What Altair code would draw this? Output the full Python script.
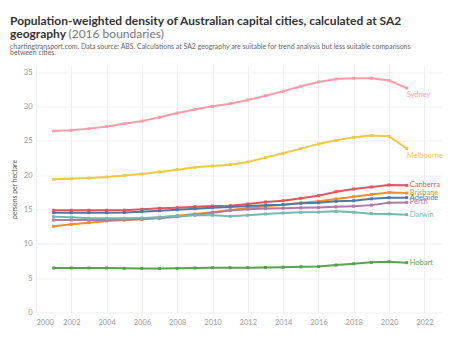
import altair as alt
import pandas as pd

years = list(range(2001, 2022))
cities = ["Sydney", "Melbourne", "Canberra", "Brisbane", "Adelaide", "Perth", "Darwin", "Hobart"]

sydney = [26.46, 26.56, 26.8, 27.1, 27.5, 27.9, 28.45, 29.08, 29.6, 30.05, 30.44,
          30.97, 31.6, 32.24, 32.97, 33.6, 34.04, 34.14, 34.14, 33.8, 32.7]
melbourne = [19.41, 19.5, 19.6, 19.75, 19.95, 20.19, 20.48, 20.82, 21.16, 21.35, 21.55,
             21.94, 22.57, 23.2, 23.88, 24.56, 25.1, 25.54, 25.78, 25.68, 23.9]
canberra = [14.9, 14.9, 14.9, 14.9, 14.92, 15.04, 15.19, 15.28, 15.42, 15.52, 15.57,
            15.82, 16.1, 16.3, 16.65, 17.03, 17.6, 18.0, 18.29, 18.59, 18.54]
brisbane = [12.56, 12.85, 13.09, 13.34, 13.48, 13.63, 13.88, 14.11, 14.36, 14.6, 14.94,
            15.23, 15.48, 15.72, 15.96, 16.2, 16.55, 16.88, 17.2, 17.5, 17.4]
adelaide = [14.55, 14.55, 14.55, 14.55, 14.58, 14.7, 14.84, 14.98, 15.13, 15.28, 15.38,
            15.52, 15.62, 15.72, 15.92, 16.0, 16.2, 16.3, 16.57, 16.74, 16.74]
perth = [13.48, 13.48, 13.48, 13.48, 13.5, 13.58, 13.73, 13.97, 14.26, 14.55, 14.85,
         15.05, 15.15, 15.2, 15.25, 15.3, 15.4, 15.5, 15.65, 16.0, 16.05]
darwin = [13.97, 13.88, 13.73, 13.73, 13.73, 13.78, 13.88, 14.07, 14.17, 14.17, 14.02,
          14.17, 14.36, 14.5, 14.6, 14.63, 14.75, 14.6, 14.41, 14.36, 14.26]
hobart = [6.49, 6.49, 6.49, 6.49, 6.44, 6.41, 6.41, 6.44, 6.49, 6.53, 6.53,
          6.53, 6.56, 6.61, 6.66, 6.7, 6.92, 7.11, 7.31, 7.4, 7.26]

colors = ["#FF9DA7", "#EDC948", "#E15759", "#F28E2B", "#4E79A7", "#B07AA1", "#76B7B2", "#59A14F"]

x_ticks = list(range(2000, 2023, 2))
y_ticks = list(range(0, 36, 5))

title_line1 = "Population-weighted density of Australian capital cities, calculated at SA2"
title_line2 = "geography"
title_note = "(2016 boundaries)"
subtitle_line1 = ("chartingtransport.com. Data source: ABS. Calculations at SA2 geography are "
                  "suitable for trend analysis but less suitable comparisons")
subtitle_line2 = "between cities."

series = [sydney, melbourne, canberra, brisbane, adelaide, perth, darwin, hobart]
rows = []
for c, vals in zip(cities, series):
    for yr, v in zip(years, vals):
        rows.append({"city": c, "year": yr, "density": v})
df = pd.DataFrame(rows)

FONT = "Lato"

color = alt.Color("city:N", scale=alt.Scale(domain=cities, range=colors), legend=None)
x = alt.X(
    "year:Q",
    scale=alt.Scale(domain=[2000, 2023], nice=False, zero=False),
    axis=alt.Axis(values=x_ticks, format="d", title=None, labelFlush=True, labelOverlap=False,
                  grid=True, gridColor="#efefef", domain=False, ticks=False,
                  labelColor="#9a9a9a", labelFontSize=7.5, labelFont=FONT, labelPadding=6),
)
y = alt.Y(
    "density:Q",
    scale=alt.Scale(domain=[0, 36], nice=False),
    axis=alt.Axis(values=y_ticks, title="persons per hectare", labelOverlap=False, grid=True,
                  gridColor="#efefef", domain=False, ticks=False, labelColor="#9a9a9a",
                  labelFontSize=7.5, labelFont=FONT, labelPadding=4, titleFont=FONT,
                  titleFontSize=6.8, titleFontWeight="normal", titleColor="#555555",
                  titlePadding=6),
)

base = alt.Chart(df)
lines = base.mark_line(
    strokeWidth=2,
    point=alt.OverlayMarkDef(shape="square", size=9, filled=True),
).encode(x=x, y=y, color=color)

last = base.transform_filter(alt.datum.year == 2021)
lab_below = last.transform_filter(
    "datum.city === 'Sydney' || datum.city === 'Melbourne'"
).mark_text(align="left", baseline="middle", dy=7, fontSize=7.5, font=FONT).encode(
    x=x, y=y, text="city:N", color=color)
lab_right = last.transform_filter(
    "datum.city !== 'Sydney' && datum.city !== 'Melbourne'"
).mark_text(align="left", baseline="middle", dx=3, fontSize=7.5, font=FONT).encode(
    x=x, y=y, text="city:N", color=color)


def header(text, px, py, size, weight, col):
    return alt.Chart(pd.DataFrame({"t": [text]})).mark_text(
        align="left", baseline="alphabetic", fontSize=size, font=FONT,
        fontWeight=weight, color=col
    ).encode(text="t:N", x=alt.value(px), y=alt.value(py))


t1 = header(title_line1, -26, -40.5, 12, "bold", "#333333")
t2 = header(title_line2, -26, -27.2, 12, "bold", "#333333")
t3 = header(title_note, 32.5, -27.2, 12, "normal", "#777777")
s1 = header(subtitle_line1, -26, -16.8, 6.95, "normal", "#666666")
s2 = header(subtitle_line2, -26, -10.2, 6.95, "normal", "#666666")

chart = alt.layer(lines, lab_below, lab_right, t1, t2, t3, s1, s2).properties(
    width=406,
    height=247,
    autosize=alt.AutoSizeParams(type="none"),
    padding={"left": 36, "top": 65.5, "right": 7, "bottom": 24.5},
).configure_view(stroke=None)

chart.save("out.html", embed_options={"renderer": "svg", "actions": False})
